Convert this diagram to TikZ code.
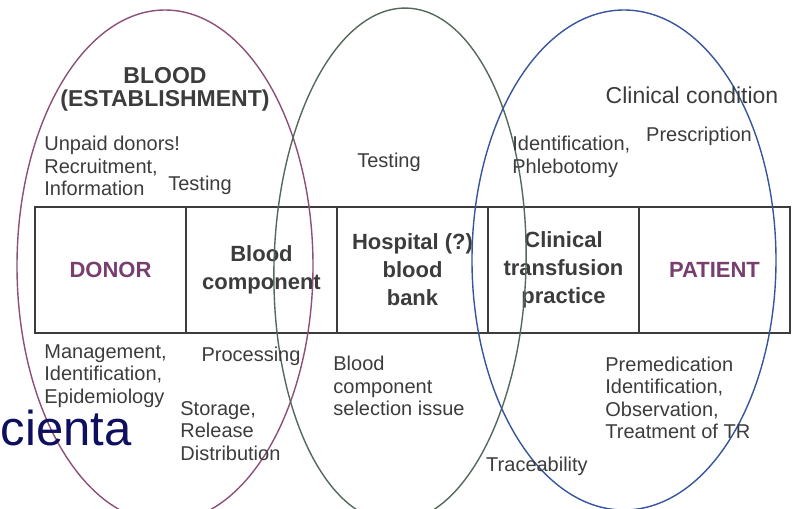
\documentclass[tikz,border=0pt]{standalone}
\usepackage{fontspec}
\setmainfont{Liberation Sans}
\usetikzlibrary{positioning}

\definecolor{estab}{RGB}{140,80,120}
\definecolor{bank}{RGB}{85,105,90}
\definecolor{ward}{RGB}{55,85,155}
\definecolor{ink}{RGB}{60,60,60}
\definecolor{who}{RGB}{120,62,110}
\definecolor{navy}{RGB}{15,15,95}

\tikzset{
  cell/.style={draw=ink, line width=1pt, outer sep=0pt, inner sep=0pt,
    minimum width=75.5pt, minimum height=63pt, align=center, text=ink,
    font=\bfseries\fontsize{11}{14}\selectfont},
  note/.style={inner sep=0pt, align=left, text=ink, font=\fontsize{10}{11.2}\selectfont},
  ring/.style={line width=0.7pt},
}

\begin{document}
\begin{tikzpicture}[x=0.5pt, y=-0.5pt]
  \useasboundingbox (0,0) rectangle (794,509);

  % the chain
  \node[cell, text=who] (D) at (110.5,269.5) {DONOR};
  \node[cell, right = 0pt of D] (Bc) {Blood\\component};
  \node[cell, right = 0pt of Bc] (Hb) {Hospital (?)\\blood\\bank};
  \node[cell, right = 0pt of Hb] (Ct) {Clinical\\transfusion\\practice};
  \node[cell, text=who, right = 0pt of Ct] (P) {PATIENT};

  % the three circles
  \draw[ring, estab] (165,266) ellipse [x radius=74pt, y radius=128pt];
  \draw[ring, bank, rotate around={-1.5:(400,265)}] (400,265) ellipse [x radius=63pt, y radius=128.5pt];
  \draw[ring, ward] (624,260) ellipse [x radius=76pt, y radius=125pt];

  % above
  \node[note, align=center, font=\bfseries\fontsize{11.5}{11.5}\selectfont] (Be) at (165,89) {BLOOD\\(ESTABLISHMENT)};
  \node[note, anchor=west] (Ud) at (44,166) {Unpaid donors!\\Recruitment,\\Information};
  \node[note] (T1) at (200,185) {Testing};
  \node[note] (T2) at (389,162) {Testing};
  \node[note, anchor=west] (Id) at (512,157) {Identification,\\Phlebotomy};
  \node[note] (Pr) at (699,136) {Prescription};
  \node[note, font=\fontsize{11.5}{12}\selectfont] (Cc) at (692,95) {Clinical condition};

  % below
  \node[note, anchor=west] (Mg) at (44,376) {Management,\\Identification,\\Epidemiology};
  \node[note] (Pc) at (251,356) {Processing};
  \node[note, anchor=west] (St) at (180,431) {Storage,\\Release\\Distribution};
  \node[note, anchor=west] (Bs) at (333,386) {Blood\\component\\selection issue};
  \node[note, anchor=west] (Pm) at (605,398) {Premedication\\Identification,\\Observation,\\Treatment of TR};
  \node[note] (Tr) at (537,466) {Traceability};

  \node[inner sep=0pt, anchor=base east, text=navy, font=\fontsize{24.5}{25}\selectfont] (Ci) at (132,445) {cienta};

\end{tikzpicture}
\end{document}
